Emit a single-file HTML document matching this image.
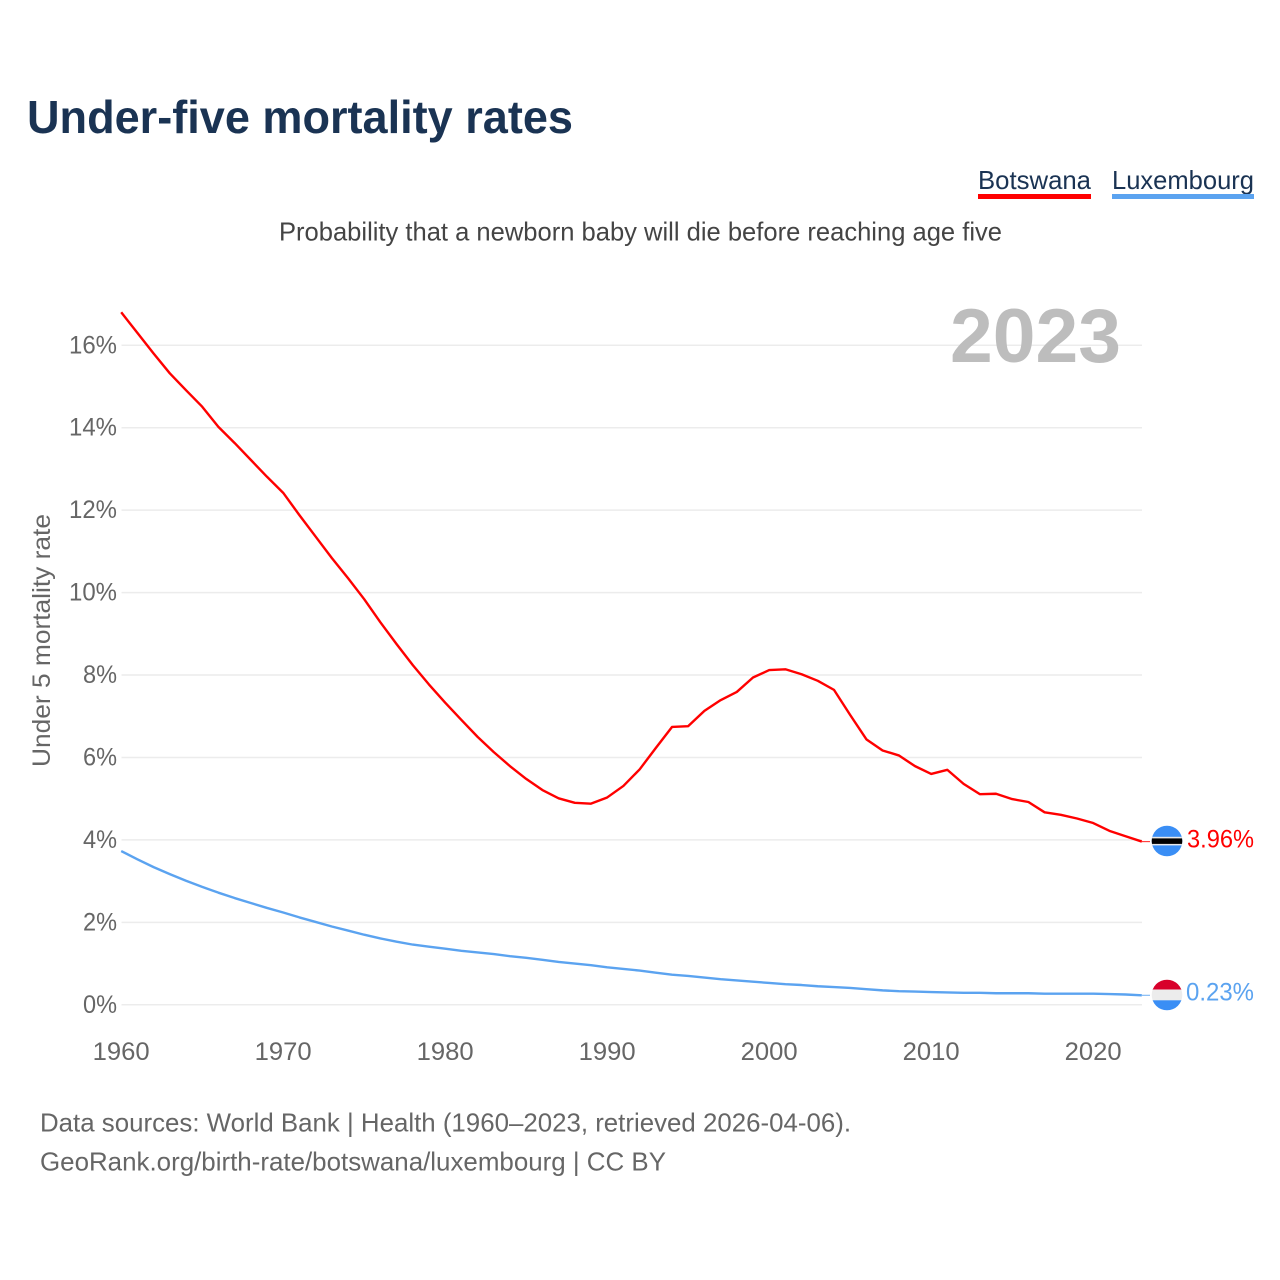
<!DOCTYPE html>
<html lang="en">
<head>
<meta charset="utf-8">
<title>Under-five mortality rates</title>
<style>
html,body{margin:0;padding:0;background:#fff;}
svg{display:block;font-family:"Liberation Sans",sans-serif;}
</style>
</head>
<body>
<svg id="chart" width="1280" height="1280" viewBox="0 0 1280 1280" xmlns="http://www.w3.org/2000/svg">
  <rect width="1280" height="1280" fill="#ffffff"/>
  <text x="27" y="133" font-size="46" font-weight="700" fill="#1a3353" textLength="546" lengthAdjust="spacingAndGlyphs">Under-five mortality rates</text>
  <g>
    <text x="978" y="189" font-size="26" fill="#1a3353" textLength="113" lengthAdjust="spacingAndGlyphs">Botswana</text>
    <rect x="978" y="194" width="113" height="5" fill="#ff0000"/>
  </g>
  <g>
    <text x="1112" y="189" font-size="26" fill="#1a3353" textLength="142" lengthAdjust="spacingAndGlyphs">Luxembourg</text>
    <rect x="1112" y="194" width="142" height="5" fill="#5ba3f0"/>
  </g>
  <text x="279" y="240.5" font-size="26" fill="#444444" textLength="723" lengthAdjust="spacingAndGlyphs">Probability that a newborn baby will die before reaching age five</text>
  <g id="grid"></g>
  <text x="950" y="362" font-size="76" font-weight="700" fill="#bdbdbd" textLength="171" lengthAdjust="spacingAndGlyphs">2023</text>
  <text transform="translate(50,767) rotate(-90)" font-size="25" fill="#666666" textLength="253" lengthAdjust="spacingAndGlyphs">Under 5 mortality rate</text>
  <g id="yticks"></g>
  <g id="xticks"></g>
  <g id="series"></g>
  <g>
    <clipPath id="clip-bw"><circle cx="1167" cy="841" r="15.3"/></clipPath>
    <g clip-path="url(#clip-bw)">
      <rect x="1150" y="825" width="34" height="32" fill="#3a8ef5"/>
      <rect x="1150" y="836.8" width="34" height="8.6" fill="#e8e8e8"/>
      <rect x="1150" y="838.4" width="34" height="5.5" fill="#000000"/>
    </g>
  </g>
  <g>
    <clipPath id="clip-lu"><circle cx="1167" cy="995" r="15.3"/></clipPath>
    <g clip-path="url(#clip-lu)">
      <rect x="1150" y="979" width="34" height="11" fill="#d8002b"/>
      <rect x="1150" y="989.5" width="34" height="11" fill="#ececec"/>
      <rect x="1150" y="1000.3" width="34" height="11" fill="#3a8ef5"/>
    </g>
  </g>
  <text id="label-bw" x="1187" y="847.5" font-size="25" fill="#ff0000" textLength="67" lengthAdjust="spacingAndGlyphs"></text>
  <text id="label-lu" x="1186" y="1000.5" font-size="25" fill="#5ba3f0" textLength="68" lengthAdjust="spacingAndGlyphs"></text>
  <text x="40" y="1131.5" font-size="26" fill="#666666" textLength="811" lengthAdjust="spacingAndGlyphs">Data sources: World Bank | Health (1960–2023, retrieved 2026-04-06).</text>
  <text x="40" y="1170.5" font-size="26" fill="#666666" textLength="626" lengthAdjust="spacingAndGlyphs">GeoRank.org/birth-rate/botswana/luxembourg | CC BY</text>
</svg>
<script>
const firstYear = 1960;
const botswana = [16.8,16.3,15.8,15.32,14.91,14.51,14.02,13.63,13.22,12.81,12.42,11.88,11.36,10.84,10.35,9.84,9.28,8.75,8.24,7.77,7.33,6.91,6.5,6.13,5.79,5.48,5.21,5.01,4.9,4.88,5.03,5.31,5.71,6.23,6.74,6.76,7.13,7.39,7.59,7.94,8.12,8.14,8.02,7.86,7.64,7.03,6.44,6.17,6.05,5.79,5.6,5.7,5.36,5.11,5.12,4.99,4.92,4.67,4.61,4.52,4.41,4.22,4.09,3.96];
const luxembourg = [3.73,3.53,3.34,3.17,3.01,2.86,2.72,2.59,2.47,2.35,2.24,2.12,2.01,1.9,1.8,1.7,1.61,1.53,1.46,1.41,1.36,1.31,1.27,1.23,1.18,1.14,1.09,1.04,1.0,0.96,0.91,0.87,0.83,0.78,0.73,0.7,0.66,0.62,0.59,0.56,0.53,0.5,0.48,0.45,0.43,0.41,0.38,0.35,0.33,0.32,0.31,0.3,0.29,0.29,0.28,0.28,0.28,0.27,0.27,0.27,0.27,0.26,0.25,0.23];
const yTicks = [0,2,4,6,8,10,12,14,16];
const xTicks = [1960,1970,1980,1990,2000,2010,2020];

const NS = 'http://www.w3.org/2000/svg';
function xScale(year){ return 121.2 + (year - 1960) * 16.2; }
function yScale(v){ return 1004.8 - v * 41.22; }
function make(tag, parent, attrs){
  const el = document.createElementNS(NS, tag);
  for (const k in attrs) el.setAttribute(k, attrs[k]);
  parent.appendChild(el);
  return el;
}
const grid = document.getElementById('grid');
const yG = document.getElementById('yticks');
const xG = document.getElementById('xticks');
const seriesG = document.getElementById('series');

yTicks.forEach(function(t){
  const line = make('line', grid, {x1:121.5, x2:1142, y1:yScale(t), y2:yScale(t), stroke:'#ececec', 'stroke-width':1.5});
  
  
  const w = String(t).length > 1 ? 48 : 34;
  const label = make('text', yG, {x:117 - w, y:yScale(t) + 8, 'font-size':25, fill:'#666666', textLength:w, lengthAdjust:'spacingAndGlyphs'});
  label.textContent = t + '%';
  
  
});
xTicks.forEach(function(t){
  const label = make('text', xG, {x:xScale(t) - 28.5, y:1060, 'font-size':25, fill:'#666666', textLength:57, lengthAdjust:'spacingAndGlyphs'});
  label.textContent = String(t);
  
  
});
function pathFor(values){
  return values.map(function(v, i){
    return (i ? 'L' : 'M') + xScale(firstYear + i).toFixed(2) + ' ' + yScale(v).toFixed(2);
  }).join(' ');
}
const lineLu = make('path', seriesG, {d:pathFor(luxembourg), fill:'none', stroke:'#5ba3f0', 'stroke-width':2.4, 'stroke-linejoin':'round'});


const lineBw = make('path', seriesG, {d:pathFor(botswana), fill:'none', stroke:'#ff0000', 'stroke-width':2.4, 'stroke-linejoin':'round'});



const lastYear = firstYear + botswana.length - 1;
const lastBw = botswana[botswana.length - 1];
const lastLu = luxembourg[luxembourg.length - 1];
const tailBw = make('line', seriesG, {x1:xScale(lastYear), x2:1150, y1:yScale(lastBw), y2:yScale(lastBw), stroke:'#ff0000', 'stroke-width':1.2, 'stroke-opacity':0.75});


const tailLu = make('line', seriesG, {x1:xScale(lastYear), x2:1150, y1:yScale(lastLu), y2:yScale(lastLu), stroke:'#5ba3f0', 'stroke-width':1.2, 'stroke-opacity':0.75});



document.getElementById('label-bw').textContent = lastBw.toFixed(2) + '%';
document.getElementById('label-lu').textContent = lastLu.toFixed(2) + '%';
</script>
</body>
</html>
